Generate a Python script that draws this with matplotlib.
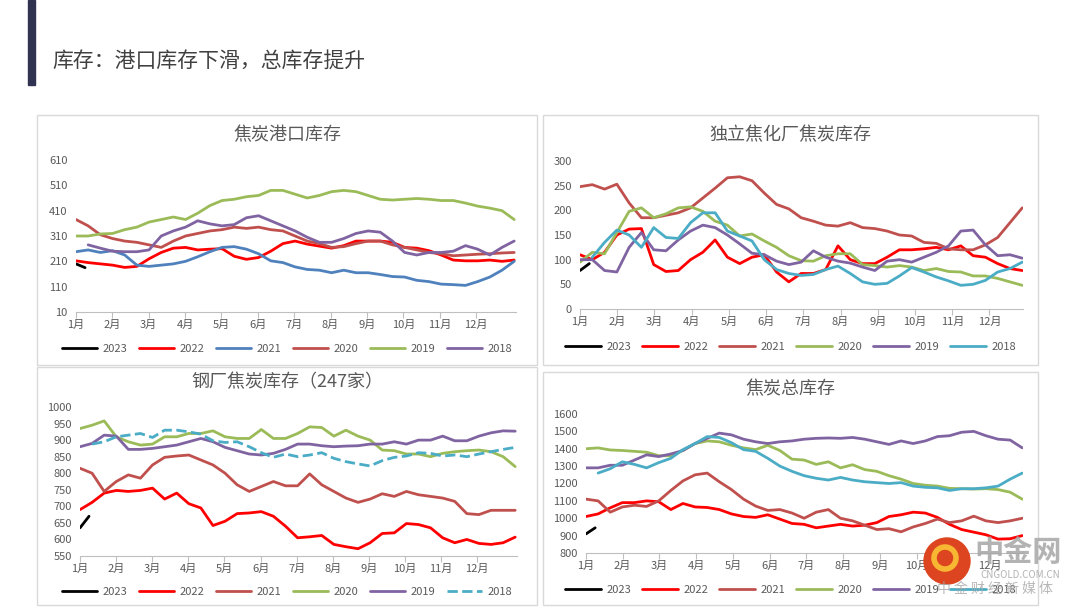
import numpy as np
import matplotlib.pyplot as plt
from matplotlib.patches import Rectangle, Ellipse

plt.rcParams['font.family'] = ['Noto Sans CJK SC', 'DejaVu Sans']

nan = np.nan
months = ['1月', '2月', '3月', '4月', '5月', '6月', '7月', '8月', '9月', '10月', '11月', '12月']
years = ['2023', '2022', '2021', '2020', '2019', '2018']

# 焦炭港口库存 (about 3 readings per month, Jan -> end of Dec)
port_2023 = [200, 185]
port_2022 = [212, 205, 200, 195, 186, 190, 220, 245, 262, 265, 255, 258, 260, 230, 218, 225, 250, 280, 290,
             278, 270, 262, 272, 290, 290, 290, 285, 265, 262, 252, 235, 215, 212, 212, 215, 210, 215]
port_2021 = [248, 255, 245, 252, 235, 195, 190, 195, 200, 210, 228, 248, 265, 268, 258, 240, 212, 205, 188,
             178, 175, 165, 175, 165, 165, 158, 150, 148, 135, 130, 120, 118, 115, 130, 148, 175, 210]
port_2020 = [375, 350, 315, 300, 290, 285, 275, 265, 290, 310, 320, 330, 335, 345, 340, 345, 335, 330, 310,
             290, 280, 265, 268, 280, 290, 290, 275, 265, 255, 245, 240, 232, 235, 238, 240, 243, 245]
port_2019 = [310, 310, 318, 320, 335, 345, 365, 375, 385, 375, 400, 430, 450, 455, 465, 470, 490, 490, 475,
             460, 470, 485, 490, 485, 470, 455, 452, 455, 458, 455, 450, 450, 440, 428, 420, 410, 375]
port_2018 = [nan, 275, 262, 250, 248, 248, 255, 310, 330, 345, 370, 358, 350, 355, 382, 390, 370, 350, 330,
             305, 285, 285, 300, 320, 330, 325, 290, 245, 235, 245, 245, 250, 272, 258, 235, 265, 290]

# 独立焦化厂焦炭库存
coke_2023 = [78, 92]
coke_2022 = [110, 100, 115, 150, 162, 163, 90, 76, 78, 100, 115, 140, 105, 92, 105, 110, 75, 55, 72,
             72, 80, 128, 100, 92, 92, 105, 120, 120, 122, 125, 120, 128, 108, 105, 92, 82, 78]
coke_2021 = [248, 252, 243, 253, 215, 185, 185, 190, 195, 205, 225, 245, 266, 268, 260, 235, 212, 203, 185,
             178, 170, 168, 175, 165, 163, 158, 150, 148, 135, 133, 122, 120, 120, 130, 145, 175, 205]
coke_2020 = [95, 115, 112, 155, 198, 205, 185, 193, 205, 207, 198, 178, 170, 148, 152, 138, 125, 108, 98,
             97, 108, 112, 112, 90, 88, 85, 88, 85, 78, 82, 76, 75, 67, 67, 62, 55, 48]
coke_2019 = [100, 100, 78, 75, 125, 155, 120, 118, 140, 158, 170, 165, 150, 132, 113, 110, 97, 90, 95,
             118, 105, 97, 93, 85, 78, 97, 100, 95, 105, 115, 128, 158, 160, 130, 108, 110, 103]
coke_2018 = [nan, 105, 135, 160, 150, 125, 165, 145, 143, 175, 195, 195, 158, 148, 138, 100, 80, 72, 68,
             70, 80, 87, 72, 55, 50, 52, 67, 84, 75, 65, 57, 48, 50, 58, 75, 82, 95]

# 钢厂焦炭库存（247家）
steel_2023 = [635, 670]
steel_2022 = [690, 712, 740, 748, 745, 748, 755, 722, 740, 708, 695, 642, 655, 678, 680, 684, 670, 640, 605,
              608, 612, 585, 578, 572, 590, 618, 620, 648, 645, 635, 605, 590, 600, 588, 585, 590, 607]
steel_2021 = [815, 800, 745, 775, 795, 785, 825, 848, 852, 855, 840, 825, 800, 765, 745, 760, 775, 762, 762,
              798, 765, 745, 725, 712, 722, 738, 730, 745, 735, 730, 725, 715, 678, 675, 688, 688, 688]
steel_2020 = [935, 945, 958, 910, 895, 885, 888, 910, 910, 920, 920, 928, 910, 905, 905, 932, 905, 905, 920,
              940, 938, 912, 930, 912, 900, 870, 868, 858, 858, 850, 860, 865, 868, 870, 865, 850, 820]
steel_2019 = [880, 890, 915, 912, 872, 872, 875, 880, 885, 895, 905, 895, 878, 868, 858, 855, 860, 872, 888,
              888, 883, 880, 882, 883, 888, 888, 895, 888, 900, 900, 912, 898, 898, 912, 922, 928, 927]
steel_2018 = [nan, 888, 895, 910, 915, 920, 908, 930, 930, 925, 918, 898, 893, 895, 880, 862, 848, 858, 850,
              855, 862, 845, 835, 828, 822, 838, 848, 852, 862, 860, 852, 855, 850, 858, 865, 872, 878]

# 焦炭总库存
total_2023 = [910, 945]
total_2022 = [1010, 1025, 1060, 1090, 1090, 1100, 1095, 1050, 1085, 1065, 1062, 1050, 1025, 1010, 1005, 1020,
              995, 970, 965, 945, 955, 965, 955, 960, 975, 1010, 1020, 1035, 1030, 1005, 965, 935, 920, 905,
              880, 882, 900]
total_2021 = [1110, 1100, 1035, 1065, 1075, 1068, 1100, 1160, 1215, 1250, 1260, 1210, 1165, 1110, 1070, 1045,
              1050, 1030, 1000, 1035, 1050, 1000, 985, 960, 935, 940, 922, 950, 970, 995, 975, 985, 1012, 985,
              975, 985, 1000]
total_2020 = [1400, 1405, 1393, 1390, 1385, 1380, 1360, 1360, 1390, 1430, 1445, 1440, 1420, 1405, 1395, 1420,
              1390, 1340, 1335, 1310, 1325, 1290, 1308, 1280, 1270, 1245, 1225, 1200, 1190, 1185, 1172, 1170,
              1168, 1170, 1165, 1150, 1110]
total_2019 = [1290, 1290, 1305, 1305, 1335, 1365, 1355, 1370, 1390, 1430, 1460, 1490, 1480, 1455, 1440, 1430,
              1440, 1445, 1455, 1460, 1462, 1460, 1465, 1455, 1440, 1425, 1445, 1430, 1445, 1470, 1475, 1495,
              1500, 1475, 1455, 1450, 1405]
total_2018 = [nan, 1260, 1285, 1325, 1310, 1290, 1320, 1345, 1395, 1430, 1470, 1465, 1435, 1395, 1385, 1345,
              1300, 1270, 1245, 1230, 1220, 1235, 1220, 1210, 1205, 1200, 1205, 1185, 1178, 1175, 1160, 1170,
              1170, 1175, 1185, 1225, 1260]

RED = '#FF0000'
BLUE = '#4F81BD'
BROWN = '#C0504D'
GREEN = '#9BBB59'
PURPLE = '#8064A2'
CYAN = '#4BACC6'
GRAY = '#595959'

W, H = 1080, 608
fig = plt.figure(figsize=(W / 100, H / 100), dpi=100)
fig.patch.set_facecolor('white')


def box(l, t, r, b):
    return [l / W, 1 - b / H, (r - l) / W, (b - t) / H]


# header
fig.patches.append(Rectangle((28 / W, 1 - 85 / H), 7 / W, 85 / H, transform=fig.transFigure,
                             color='#2F3250', zorder=5))
fig.text(52 / W, 1 - 62 / H, '库存：港口库存下滑，总库存提升', fontsize=15, color='#404040', va='center')

# panel frames
for l, t, r, b in [(37, 115, 537, 365), (543, 115, 1038, 365), (37, 367, 537, 605), (543, 372, 1038, 605)]:
    fig.patches.append(Rectangle((l / W, 1 - b / H), (r - l) / W, (b - t) / H, transform=fig.transFigure,
                                 fill=False, edgecolor='#D9D9D9', linewidth=1))

panels = [
    dict(title='焦炭港口库存', pos=(76, 160, 516, 312), xend=13.05, xmax=13.1, ylim=(10, 610), step=100,
         ttl_y=135, leg_y=349,
         series=[port_2023, port_2022, port_2021, port_2020, port_2019, port_2018],
         colors=['black', RED, BLUE, BROWN, GREEN, PURPLE], dashed=False),
    dict(title='独立焦化厂焦炭库存', pos=(580, 161, 1023, 309), xend=12.88, xmax=12.9, ylim=(0, 300), step=50,
         ttl_y=135, leg_y=347,
         series=[coke_2023, coke_2022, coke_2021, coke_2020, coke_2019, coke_2018],
         colors=['black', RED, BROWN, GREEN, PURPLE, CYAN], dashed=False),
    dict(title='钢厂焦炭库存（247家）', pos=(80, 407, 517, 556), xend=13.05, xmax=13.1, ylim=(550, 1000), step=50,
         ttl_y=382, leg_y=592,
         series=[steel_2023, steel_2022, steel_2021, steel_2020, steel_2019, steel_2018],
         colors=['black', RED, BROWN, GREEN, PURPLE, CYAN], dashed=True),
    dict(title='焦炭总库存', pos=(586, 414, 1023, 553), xend=12.88, xmax=12.9, ylim=(800, 1600), step=100,
         ttl_y=389, leg_y=590,
         series=[total_2023, total_2022, total_2021, total_2020, total_2019, total_2018],
         colors=['black', RED, BROWN, GREEN, PURPLE, CYAN], dashed=False),
]

for p in panels:
    l, t, r, b = p['pos']
    ax = fig.add_axes(box(l, t, r, b))
    x = np.linspace(1, p['xend'], 37)
    for name, vals, c in zip(years, p['series'], p['colors']):
        if len(vals) == 2:
            xs = [1, 1.25]
        else:
            xs = x
        ls = '--' if (p['dashed'] and name == '2018') else '-'
        ax.plot(xs, vals, color=c, linewidth=2.0, linestyle=ls, label=name, solid_capstyle='round')
    ax.set_xlim(1, p['xmax'])
    ax.set_ylim(*p['ylim'])
    ax.set_yticks(np.arange(p['ylim'][0], p['ylim'][1] + 1, p['step']))
    ax.set_xticks(range(1, 13))
    ax.set_xticklabels(months)
    for s in ['top', 'right', 'left']:
        ax.spines[s].set_visible(False)
    ax.spines['bottom'].set_color('#BFBFBF')
    ax.tick_params(axis='y', length=0, labelsize=8, colors=GRAY, pad=6)
    ax.tick_params(axis='x', length=4, color='#BFBFBF', labelsize=8, labelcolor=GRAY, pad=2)
    ax.patch.set_alpha(0)

    # title and legend in figure pixels
    frame_l = 37 if l < 540 else 543
    frame_r = 537 if l < 540 else 1038
    fig.text((frame_l + frame_r) / 2 / W, 1 - p['ttl_y'] / H, p['title'], fontsize=13, color=GRAY,
             ha='center', va='center')
    fig.legend(*ax.get_legend_handles_labels(), loc='center',
               bbox_to_anchor=((frame_l + frame_r) / 2 / W, 1 - p['leg_y'] / H),
               ncol=6, frameon=False, fontsize=8, handlelength=3.2, columnspacing=1.0,
               handletextpad=0.5, labelcolor=GRAY)

# watermark logo
fig.patches.append(Ellipse((947 / W, 1 - 561 / H), 46 / W, 46 / H, transform=fig.transFigure,
                           color='#DD4420', zorder=6))
fig.patches.append(Ellipse((945 / W, 1 - 558 / H), 22 / W, 22 / H, transform=fig.transFigure,
                           fill=False, edgecolor='#F7B733', linewidth=4, zorder=7))
fig.text(1018 / W, 1 - 552 / H, '中金网', fontsize=21, fontweight='bold', color='#A6A6A6',
         ha='center', va='center', alpha=0.85, zorder=8)
fig.text(1020 / W, 1 - 575 / H, 'CNGOLD.COM.CN', fontsize=7, color='#A6A6A6', ha='center', va='center',
         alpha=0.85, zorder=8)
fig.text(995 / W, 1 - 589 / H, '中 金 财 经 新 媒 体', fontsize=10, color='#A6A6A6', ha='center',
         va='center', alpha=0.8, zorder=8)

plt.savefig('out.png', dpi=100)
